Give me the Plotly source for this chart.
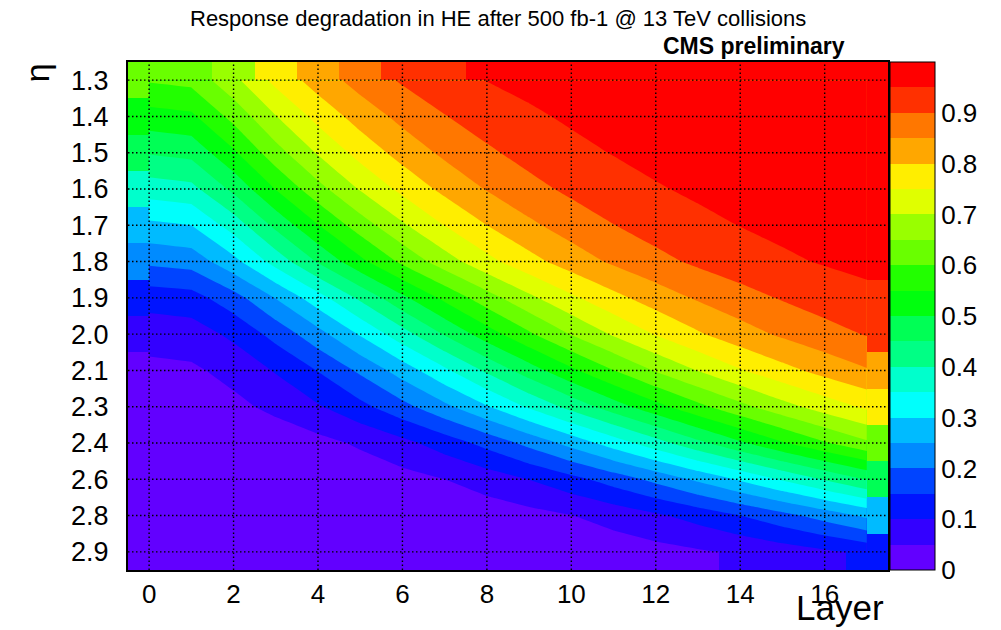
import plotly.graph_objects as go

# HE response map: rows are eta bins, columns are scintillator layers
layers = list(range(18))
eta_labels = ["1.3", "1.4", "1.5", "1.6", "1.7", "1.8", "1.9",
              "2.0", "2.1", "2.3", "2.4", "2.6", "2.8", "2.9"]

resp_eta_1p3 = [0.605, 0.615, 0.687, 0.764, 0.823, 0.870, 0.906, 0.932, 0.951,
                0.964, 0.974, 0.981, 0.986, 0.990, 0.993, 0.995, 0.996, 0.997]
resp_eta_1p4 = [0.530, 0.540, 0.616, 0.698, 0.766, 0.821, 0.864, 0.898, 0.923,
                0.942, 0.957, 0.968, 0.976, 0.982, 0.987, 0.990, 0.993, 0.995]
resp_eta_1p5 = [0.454, 0.465, 0.542, 0.630, 0.705, 0.768, 0.819, 0.860, 0.892,
                0.917, 0.937, 0.952, 0.964, 0.972, 0.979, 0.984, 0.988, 0.991]
resp_eta_1p6 = [0.374, 0.385, 0.462, 0.552, 0.633, 0.704, 0.763, 0.813, 0.853,
                0.885, 0.910, 0.930, 0.946, 0.958, 0.968, 0.975, 0.981, 0.985]
resp_eta_1p7 = [0.289, 0.300, 0.372, 0.463, 0.548, 0.625, 0.693, 0.751, 0.800,
                0.840, 0.873, 0.899, 0.921, 0.938, 0.951, 0.962, 0.970, 0.976]
resp_eta_1p8 = [0.210, 0.220, 0.285, 0.370, 0.455, 0.537, 0.611, 0.677, 0.735,
                0.783, 0.824, 0.858, 0.886, 0.909, 0.927, 0.942, 0.954, 0.963]
resp_eta_1p9 = [0.122, 0.130, 0.180, 0.252, 0.330, 0.410, 0.489, 0.562, 0.629,
                0.689, 0.741, 0.786, 0.824, 0.856, 0.882, 0.904, 0.922, 0.937]
resp_eta_2p0 = [0.069, 0.075, 0.111, 0.167, 0.232, 0.305, 0.380, 0.454, 0.526,
                0.592, 0.653, 0.706, 0.753, 0.794, 0.829, 0.858, 0.883, 0.903]
resp_eta_2p1 = [0.038, 0.042, 0.065, 0.104, 0.152, 0.209, 0.273, 0.340, 0.409,
                0.476, 0.540, 0.599, 0.654, 0.702, 0.746, 0.784, 0.817, 0.846]
resp_eta_2p3 = [0.021, 0.024, 0.038, 0.062, 0.095, 0.136, 0.184, 0.238, 0.296,
                0.357, 0.417, 0.476, 0.533, 0.587, 0.636, 0.682, 0.723, 0.759]
resp_eta_2p4 = [0.005, 0.006, 0.011, 0.020, 0.035, 0.057, 0.086, 0.123, 0.166,
                0.215, 0.268, 0.324, 0.380, 0.437, 0.492, 0.545, 0.595, 0.641]
resp_eta_2p6 = [0.001, 0.002, 0.003, 0.006, 0.012, 0.020, 0.033, 0.050, 0.073,
                0.101, 0.134, 0.172, 0.214, 0.260, 0.307, 0.356, 0.405, 0.453]
resp_eta_2p8 = [0.000, 0.000, 0.001, 0.001, 0.002, 0.005, 0.009, 0.014, 0.023,
                0.034, 0.049, 0.068, 0.092, 0.119, 0.150, 0.184, 0.221, 0.260]
resp_eta_2p9 = [0.000, 0.000, 0.000, 0.001, 0.001, 0.002, 0.003, 0.005, 0.008,
                0.012, 0.017, 0.024, 0.033, 0.044, 0.058, 0.074, 0.092, 0.113]

response = [resp_eta_1p3, resp_eta_1p4, resp_eta_1p5, resp_eta_1p6,
            resp_eta_1p7, resp_eta_1p8, resp_eta_1p9, resp_eta_2p0,
            resp_eta_2p1, resp_eta_2p3, resp_eta_2p4, resp_eta_2p6,
            resp_eta_2p8, resp_eta_2p9]
rows = list(range(len(eta_labels)))

# 20-step violet -> red palette, one colour per 0.05 band
palette = [
    "rgb(98,0,255)", "rgb(51,0,255)", "rgb(0,20,255)", "rgb(0,68,255)",
    "rgb(0,139,255)", "rgb(0,187,255)", "rgb(0,255,252)", "rgb(0,255,204)",
    "rgb(0,255,133)", "rgb(0,255,85)", "rgb(0,255,14)", "rgb(34,255,0)",
    "rgb(105,255,0)", "rgb(153,255,0)", "rgb(224,255,0)", "rgb(255,238,0)",
    "rgb(255,167,0)", "rgb(255,119,0)", "rgb(255,48,0)", "rgb(255,0,0)",
]
n_bands = len(palette)

heat_scale = []
for k, col in enumerate(palette):
    heat_scale.append([k / n_bands, col])
    heat_scale.append([(k + 1) / n_bands, col])

# contour fill colours are sampled at band centres 0.025 .. 0.975
cont_scale = [[k / (n_bands - 1), col] for k, col in enumerate(palette)]

FONT = "Liberation Sans, Arial, Helvetica, sans-serif"

fig = go.Figure()

# cell map underneath fills the half-bin margins around the contour grid
fig.add_trace(go.Heatmap(
    x=layers, y=rows, z=response, zmin=0, zmax=1,
    colorscale=heat_scale, hoverinfo="skip",
    colorbar=dict(
        thickness=45, thicknessmode="pixels",
        len=1, lenmode="fraction",
        x=1.003, xanchor="left", xpad=0,
        y=0.5, yanchor="middle", ypad=0,
        outlinewidth=1, outlinecolor="black",
        tickvals=[0, 0.1, 0.2, 0.3, 0.4, 0.5, 0.6, 0.7, 0.8, 0.9],
        ticktext=["0", "0.1", "0.2", "0.3", "0.4", "0.5",
                  "0.6", "0.7", "0.8", "0.9"],
        ticks="", ticklen=0,
        tickfont=dict(family=FONT, size=26, color="black"),
    ),
))

# straight-segment (unsmoothed) filled contours on the bin-centre grid
fig.add_trace(go.Contour(
    x=layers, y=rows, z=response,
    autocontour=False,
    contours=dict(start=0.05, end=0.95, size=0.05,
                  coloring="fill", showlines=False),
    colorscale=cont_scale, showscale=False,
    line=dict(width=0, smoothing=0), hoverinfo="skip",
))

# dotted grid drawn above the filled map
grid = dict(color="black", width=1.4, dash="1.5px,2.5px")
shapes = []
for xv in range(0, 17, 2):
    shapes.append(dict(type="line", xref="x", yref="paper",
                       x0=xv, x1=xv, y0=0, y1=1, line=grid, layer="above"))
for r in rows:
    shapes.append(dict(type="line", xref="paper", yref="y",
                       x0=0, x1=1, y0=r, y1=r, line=grid, layer="above"))

fig.update_layout(
    width=1001, height=630,
    margin=dict(l=128, r=113, t=62, b=60, autoexpand=False),
    paper_bgcolor="white", plot_bgcolor="white",
    font=dict(family=FONT, color="black"),
    showlegend=False,
    shapes=shapes,
    xaxis=dict(
        range=[-0.5, 17.5], tickvals=list(range(0, 17, 2)),
        showgrid=False, zeroline=False, ticks="",
        showline=True, mirror=True, linecolor="black", linewidth=2,
        tickfont=dict(size=26), ticklabelstandoff=0,
    ),
    yaxis=dict(
        range=[13.5, -0.5], tickvals=rows, ticktext=eta_labels,
        showgrid=False, zeroline=False, ticks="",
        showline=True, mirror=True, linecolor="black", linewidth=2,
        tickfont=dict(size=27), ticklabelstandoff=12,
    ),
    annotations=[
        dict(text="Response degradation in HE after 500 fb-1 @ 13 TeV collisions",
             xref="paper", yref="paper", x=0.487, y=1.0866,
             xanchor="center", yanchor="middle", showarrow=False,
             font=dict(size=22, family=FONT)),
        dict(text="<b>CMS preliminary</b>",
             xref="paper", yref="paper", x=0.946, y=1.0315,
             xanchor="right", yanchor="middle", showarrow=False,
             font=dict(size=23, family=FONT)),
        dict(text="η", textangle=-90,
             xref="paper", yref="paper", x=-0.1195, y=0.978,
             xanchor="center", yanchor="middle", showarrow=False,
             font=dict(size=34, family=FONT)),
        dict(text="Layer",
             xref="paper", yref="paper", x=0.997, y=-0.1161,
             xanchor="right", yanchor="bottom", showarrow=False,
             font=dict(size=35, family=FONT)),
    ],
)

fig.write_html("out.html")
